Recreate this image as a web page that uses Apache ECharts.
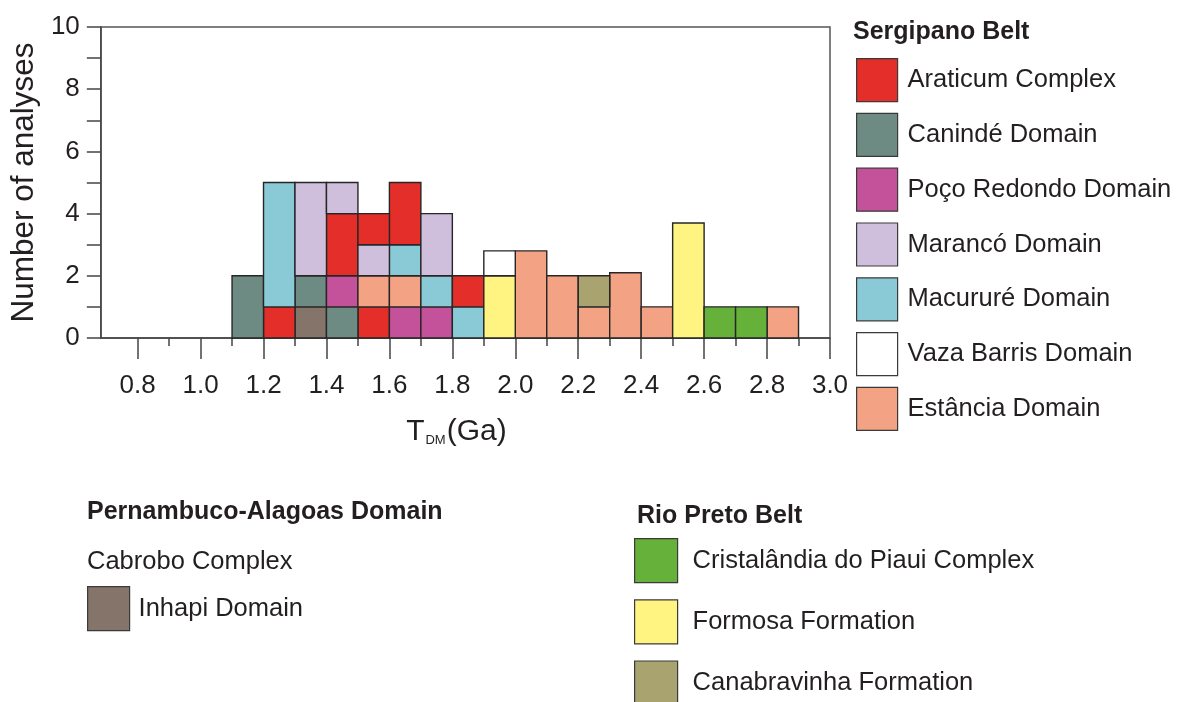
<!DOCTYPE html>
<html><head><meta charset="utf-8">
<script src="https://cdn.jsdelivr.net/npm/echarts@6/dist/echarts.min.js"></script>
<style>html,body{margin:0;padding:0;background:#fff}#c{width:1179px;height:702px}</style>
</head><body><div id="c"></div>
<script>
// ---- data ----
const binStarts = [1.1,1.2,1.3,1.4,1.5,1.6,1.7,1.8,1.9,2.0,2.1,2.2,2.3,2.4,2.5,2.6,2.7,2.8];
const binWidth = 0.1;
// stacked layers, bottom to top (counts per bin)
const inhapi       = [0,0,1,0,0,0,0,0,0,0,  0,0,0,  0,0,  0,0,0];
const araticumLow  = [0,1,0,0,1,0,0,0,0,0,  0,0,0,  0,0,  0,0,0];
const caninde      = [2,0,1,1,0,0,0,0,0,0,  0,0,0,  0,0,  0,0,0];
const pocoRedondo  = [0,0,0,1,0,1,1,0,0,0,  0,0,0,  0,0,  0,0,0];
const estancia     = [0,0,0,0,1,1,0,0,0,2.8,2,1,2.1,1,0,  0,0,1];
const macurure     = [0,4,0,0,0,1,1,1,0,0,  0,0,0,  0,0,  0,0,0];
const araticumMid  = [0,0,0,2,0,2,0,1,0,0,  0,0,0,  0,0,  0,0,0];
const maranco      = [0,0,3,1,1,0,2,0,0,0,  0,0,0,  0,0,  0,0,0];
const araticumTop  = [0,0,0,0,1,0,0,0,0,0,  0,0,0,  0,0,  0,0,0];
const formosa      = [0,0,0,0,0,0,0,0,2,0,  0,0,0,  0,3.7,0,0,0];
const vazaBarris   = [0,0,0,0,0,0,0,0,0.8,0,0,0,0,  0,0,  0,0,0];
const canabravinha = [0,0,0,0,0,0,0,0,0,0,  0,1,0,  0,0,  0,0,0];
const cristalandia = [0,0,0,0,0,0,0,0,0,0,  0,0,0,  0,0,  1,1,0];

const majorTicks = [0.8,1.0,1.2,1.4,1.6,1.8,2.0,2.2,2.4,2.6,2.8,3.0];
const minorTicks = [0.9,1.1,1.3,1.5,1.7,1.9,2.1,2.3,2.5,2.7,2.9];

const sergipanoNames = ['Araticum Complex','Canindé Domain','Poço Redondo Domain','Marancó Domain','Macururé Domain','Vaza Barris Domain','Estância Domain'];
const pernambucoNames = ['Inhapi Domain'];
const rioPretoNames = ['Cristalândia do Piaui Complex','Formosa Formation','Canabravinha Formation'];

// ---- styling ----
const colors = {
  'Araticum Complex':'#E32E29','Canindé Domain':'#6E8B83','Poço Redondo Domain':'#C4529A',
  'Marancó Domain':'#CFBFDD','Macururé Domain':'#8ACAD6','Vaza Barris Domain':'#FFFFFF',
  'Estância Domain':'#F4A284','Inhapi Domain':'#85746A','Cristalândia do Piaui Complex':'#66B13A',
  'Formosa Formation':'#FFF381','Canabravinha Formation':'#A8A36F'
};
const layers = [
  ['Inhapi Domain', inhapi], ['Araticum Complex', araticumLow], ['Canindé Domain', caninde],
  ['Poço Redondo Domain', pocoRedondo], ['Estância Domain', estancia], ['Macururé Domain', macurure],
  ['Araticum Complex', araticumMid], ['Marancó Domain', maranco], ['Araticum Complex', araticumTop],
  ['Formosa Formation', formosa], ['Vaza Barris Domain', vazaBarris],
  ['Canabravinha Formation', canabravinha], ['Cristalândia do Piaui Complex', cristalandia]
];

const TXT = '#231F20';
const FONT = 'Liberation Sans, Arial, sans-serif';

// build stacked rectangles [x0, x1, yBase, yTop] from the counts
const stackBase = binStarts.map(() => 0);
const series = layers.map(([name, arr]) => {
  const data = [];
  arr.forEach((v, i) => {
    if (v > 0) {
      const b = stackBase[i];
      data.push([binStarts[i], binStarts[i] + binWidth, b, b + v]);
      stackBase[i] = b + v;
    }
  });
  return {
    type: 'custom', name, xAxisIndex: 0, yAxisIndex: 0,
    itemStyle: { color: colors[name], borderColor: '#2a2a2a', borderWidth: 1.4 },
    encode: { x: [0, 1], y: [2, 3] },
    emphasis: { disabled: true },
    renderItem: (params, api) => {
      const p0 = api.coord([api.value(0), api.value(2)]);
      const p1 = api.coord([api.value(1), api.value(3)]);
      return {
        type: 'rect',
        shape: { x: p0[0], y: p1[1], width: p1[0] - p0[0], height: p0[1] - p1[1] },
        style: { fill: colors[name], stroke: '#262626', lineWidth: 1.4 }
      };
    },
    data
  };
});

const legendCommon = {
  orient: 'vertical', icon: 'rect', selectedMode: false, height: 450,
  itemStyle: { borderColor: '#3a3a3a', borderWidth: 1.2 },
  textStyle: { fontSize: 25.5, color: TXT, fontFamily: FONT }
};

const chart = echarts.init(document.getElementById('c'), null, { renderer: 'canvas' });
chart.setOption({
  animation: false,
  backgroundColor: '#fff',
  textStyle: { fontFamily: FONT },
  title: [
    { text: 'Sergipano Belt', left: 853, top: 20, padding: 0, textStyle: { fontSize: 25, fontWeight: 'bold', color: TXT, fontFamily: FONT } },
    { text: 'Pernambuco-Alagoas Domain', left: 87, top: 500, padding: 0, textStyle: { fontSize: 25, fontWeight: 'bold', color: TXT, fontFamily: FONT } },
    { text: 'Cabrobo Complex', left: 87, top: 549, padding: 0, textStyle: { fontSize: 25.5, fontWeight: 'normal', color: TXT, fontFamily: FONT } },
    { text: 'Rio Preto Belt', left: 637, top: 504, padding: 0, textStyle: { fontSize: 25, fontWeight: 'bold', color: TXT, fontFamily: FONT } }
  ],
  legend: [
    Object.assign({}, legendCommon, { data: sergipanoNames, left: 856, top: 58, itemWidth: 41, itemHeight: 43, itemGap: 10.6, padding: 0,
      textStyle: Object.assign({}, legendCommon.textStyle, { padding: [0,0,0,5] }) }),
    Object.assign({}, legendCommon, { data: pernambucoNames, left: 87, top: 586, itemWidth: 42, itemHeight: 44, padding: 0,
      textStyle: Object.assign({}, legendCommon.textStyle, { padding: [0,0,0,4] }) }),
    Object.assign({}, legendCommon, { data: rioPretoNames, left: 634, top: 538, itemWidth: 43, itemHeight: 44, itemGap: 16, padding: 0,
      textStyle: Object.assign({}, legendCommon.textStyle, { padding: [0,0,0,10] }) })
  ],
  grid: { left: 99, right: 349, top: 27, bottom: 364, show: true, borderColor: '#555', borderWidth: 1.5, containLabel: false },
  xAxis: [
    {
      type: 'value', position: 'bottom', min: 0.683, max: 3.0,
      axisLine: { show: true, onZero: false, lineStyle: { color: '#444', width: 1.5 } },
      axisTick: { show: true, customValues: majorTicks, length: 21, lineStyle: { color: '#444', width: 1.5 } },
      axisLabel: { show: true, customValues: majorTicks, formatter: v => v.toFixed(1), fontSize: 26, color: TXT, margin: 35, fontFamily: FONT },
      splitLine: { show: false },
      name: '{t|T}{s|DM}{t|(Ga)}', nameLocation: 'middle', nameGap: 79,
      nameTextStyle: {
        padding: [0, 18, 0, 0],
        rich: {
          t: { fontSize: 30, color: TXT, fontFamily: FONT },
          s: { fontSize: 13, color: TXT, fontFamily: FONT, verticalAlign: 'bottom', padding: [0, 1, 0, 1] }
        }
      }
    },
    {
      type: 'value', position: 'bottom', min: 0.683, max: 3.0,
      axisLine: { show: false, onZero: false },
      axisTick: { show: true, customValues: minorTicks, length: 8, lineStyle: { color: '#444', width: 1.5 } },
      axisLabel: { show: false },
      splitLine: { show: false }
    }
  ],
  yAxis: {
    type: 'value', min: 0, max: 10, interval: 1,
    axisLine: { show: true, onZero: false, lineStyle: { color: '#444', width: 1.5 } },
    axisTick: { show: true, length: 14, lineStyle: { color: '#444', width: 1.5 } },
    axisLabel: { formatter: v => (v % 2 === 0 ? String(v) : ''), fontSize: 26, color: TXT, margin: 21, fontFamily: FONT },
    splitLine: { show: false },
    name: 'Number of analyses', nameLocation: 'middle', nameRotate: 90, nameGap: 54,
    nameTextStyle: { fontSize: 31.5, color: TXT, fontFamily: FONT }
  },
  series
});
</script></body></html>
